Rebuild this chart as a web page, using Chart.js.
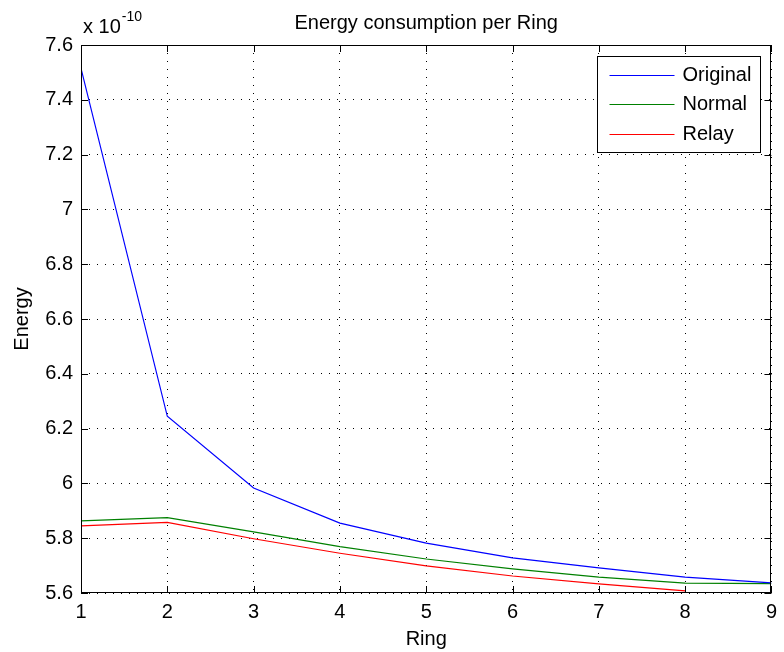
<!DOCTYPE html>
<html>
<head>
<meta charset="utf-8">
<title>Energy consumption per Ring</title>
<script src="https://cdn.jsdelivr.net/npm/chart.js@4.4.1/dist/chart.umd.min.js"></script>
<style>
    html, body { margin: 0; padding: 0; background: #fff; }
    #wrap { width: 784px; height: 652px; }
</style>
</head>
<body>
<div id="wrap"><canvas id="energyChart" width="784" height="652"></canvas></div>
<script>
// Energy values are in units of 1e-10 (shown as the "x 10^-10" label)
const ring = [1, 2, 3, 4, 5, 6, 7, 8, 9];
const energyOriginal = [7.515, 6.245, 5.983, 5.855, 5.782, 5.728, 5.692, 5.658, 5.637];
const energyNormal = [5.863, 5.875, 5.823, 5.769, 5.724, 5.688, 5.658, 5.636, 5.634];
const energyRelay = [5.845, 5.858, 5.798, 5.745, 5.699, 5.662, 5.633, 5.608];
const xTicks = [1, 2, 3, 4, 5, 6, 7, 8, 9];
const yTicks = [5.6, 5.8, 6, 6.2, 6.4, 6.6, 6.8, 7, 7.2, 7.4, 7.6];
const chartTitle = 'Energy consumption per Ring';
const exponentText = '-10';

const FONT = "'Liberation Sans', Arial, Helvetica, sans-serif";

function toPoints(values) {
    return values.map((v, i) => ({ x: ring[i], y: v }));
}

// Solid box around the axes plus inward tick marks (MATLAB style)
const axesBoxPlugin = {
    id: 'axesBox',
    afterDatasetsDraw(chart) {
        const { ctx, chartArea: a, scales } = chart;
        const len = 7;
        ctx.save();
        ctx.strokeStyle = '#000';
        ctx.lineWidth = 1;
        ctx.beginPath();
        xTicks.forEach(t => {
            const px = Math.round(scales.x.getPixelForValue(t)) + 0.5;
            ctx.moveTo(px, a.bottom); ctx.lineTo(px, a.bottom - len);
            ctx.moveTo(px, a.top); ctx.lineTo(px, a.top + len);
        });
        yTicks.forEach(t => {
            const py = Math.round(scales.y.getPixelForValue(t)) + 0.5;
            ctx.moveTo(a.left, py); ctx.lineTo(a.left + len, py);
            ctx.moveTo(a.right, py); ctx.lineTo(a.right - len, py);
        });
        ctx.stroke();
        ctx.strokeRect(Math.round(a.left) + 0.5, Math.round(a.top) + 0.5,
            Math.round(a.right - a.left) - 1, Math.round(a.bottom - a.top) - 1);
        ctx.restore();
    },
    afterDraw(chart) {
        const { ctx, chartArea: a } = chart;
        ctx.save();
        ctx.fillStyle = '#000';
        ctx.textBaseline = 'alphabetic';
        // title centred over the plot area
        ctx.textAlign = 'center';
        ctx.font = '20px ' + FONT;
        ctx.fillText(chartTitle, (a.left + a.right) / 2, 29);
        // exponent label
        ctx.textAlign = 'left';
        ctx.fillText('x 10', a.left + 2, 33);
        const w = ctx.measureText('x 10').width;
        ctx.font = '14px ' + FONT;
        ctx.fillText(exponentText, a.left + 2 + w + 1, 21);
        ctx.restore();
    }
};

// Legend box drawn inside the top right corner
const boxLegendPlugin = {
    id: 'boxLegend',
    afterDraw(chart) {
        const { ctx, chartArea: a } = chart;
        const boxW = 163, boxH = 96;
        const x0 = Math.round(a.right - 11 - boxW) + 0.5;
        const y0 = Math.round(a.top + 11) + 0.5;
        ctx.save();
        ctx.fillStyle = '#fff';
        ctx.fillRect(x0, y0, boxW, boxH);
        ctx.strokeStyle = '#000';
        ctx.lineWidth = 1;
        ctx.strokeRect(x0, y0, boxW, boxH);
        ctx.font = '20px ' + FONT;
        ctx.textBaseline = 'middle';
        ctx.textAlign = 'left';
        chart.data.datasets.forEach((ds, i) => {
            const y = Math.round(y0 + 18 + i * 29.5) + 0.5;
            ctx.strokeStyle = ds.borderColor;
            ctx.lineWidth = 1.2;
            ctx.beginPath();
            ctx.moveTo(x0 + 12, y);
            ctx.lineTo(x0 + 77, y);
            ctx.stroke();
            ctx.fillStyle = '#000';
            ctx.fillText(ds.label, x0 + 85, y);
        });
        ctx.restore();
    }
};

const ctx = document.getElementById('energyChart').getContext('2d');
const energyChart = new Chart(ctx, {
    type: 'line',
    data: {
        datasets: [
            { label: 'Original', data: toPoints(energyOriginal), borderColor: '#0000ff' },
            { label: 'Normal', data: toPoints(energyNormal), borderColor: '#008000' },
            { label: 'Relay', data: toPoints(energyRelay), borderColor: '#ff0000' }
        ]
    },
    options: {
        responsive: false,
        animation: false,
        devicePixelRatio: 1,
        layout: { padding: { left: 0, right: 6, top: 45, bottom: 0 } },
        elements: {
            line: { borderWidth: 1.2, tension: 0, fill: false },
            point: { radius: 0, hoverRadius: 0 }
        },
        plugins: {
            legend: { display: false },
            tooltip: { enabled: false },
            title: { display: false }
        },
        scales: {
            x: {
                type: 'linear',
                min: 1,
                max: 9,
                afterBuildTicks: scale => { scale.ticks = xTicks.map(v => ({ value: v })); },
                afterFit: scale => { scale.height = 59; },
                ticks: {
                    color: '#000',
                    padding: 7,
                    font: { family: FONT, size: 20 },
                    callback: v => String(v)
                },
                grid: { color: '#000', lineWidth: 1, drawTicks: false },
                border: { display: false, dash: [1, 7] },
                title: {
                    display: true,
                    text: 'Ring',
                    color: '#000',
                    font: { family: FONT, size: 20 },
                    padding: { top: 0, bottom: 1 }
                }
            },
            y: {
                type: 'linear',
                min: 5.6,
                max: 7.6,
                afterBuildTicks: scale => { scale.ticks = yTicks.map(v => ({ value: v })); },
                afterFit: scale => { scale.width = 81; },
                ticks: {
                    color: '#000',
                    padding: 8,
                    font: { family: FONT, size: 20 },
                    callback: v => String(v)
                },
                grid: { color: '#000', lineWidth: 1, drawTicks: false },
                border: { display: false, dash: [1, 7] },
                title: {
                    display: true,
                    text: 'Energy',
                    color: '#000',
                    font: { family: FONT, size: 20 },
                    padding: { top: 10, bottom: 0 }
                }
            }
        }
    },
    plugins: [axesBoxPlugin, boxLegendPlugin]
});
</script>
</body>
</html>
